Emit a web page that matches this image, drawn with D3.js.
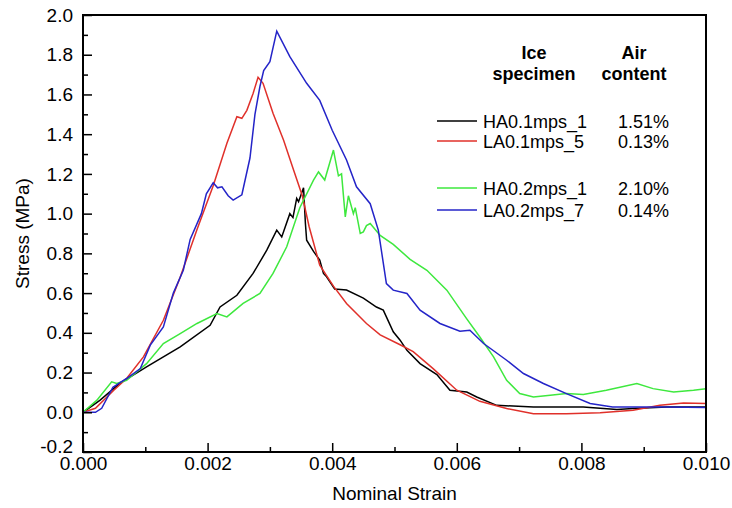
<!DOCTYPE html>
<html>
<head>
<meta charset="utf-8">
<script src="https://cdnjs.cloudflare.com/ajax/libs/d3/7.8.5/d3.min.js"></script>
<style>
  body { margin: 0; background: #fff; }
  text { font-family: "Liberation Sans", Arial, sans-serif; }
</style>
</head>
<body>
<div class="container"></div>
<script>
// stress-strain curves: [strain, stress MPa]
var ha01 = [[0,0],[0.00027,0.06],[0.00059,0.145],[0.00102,0.228],[0.00156,0.329],[0.00204,0.438],[0.0022,0.53],
  [0.00247,0.589],[0.00273,0.699],[0.00295,0.816],[0.00311,0.917],[0.00319,0.883],[0.00332,1.0],[0.00337,0.98],
  [0.00343,1.077],[0.00346,1.06],[0.00354,1.13],[0.00357,0.95],[0.00359,0.866],[0.0037,0.81],[0.0038,0.766],
  [0.00386,0.699],[0.00391,0.682],[0.00404,0.62],[0.00423,0.615],[0.0045,0.575],[0.00471,0.53],[0.00482,0.514],
  [0.00498,0.405],[0.00509,0.363],[0.0052,0.312],[0.00541,0.245],[0.00568,0.19],[0.00589,0.111],[0.00616,0.102],
  [0.00632,0.077],[0.00664,0.035],[0.00723,0.027],[0.00803,0.027],[0.00857,0.014],[0.00883,0.019],[0.00937,0.027],[0.01,0.027]];

var la01 = [[0,0],[0.0002,0.02],[0.00049,0.11],[0.0007,0.17],[0.00097,0.279],[0.00129,0.463],[0.00156,0.68],
  [0.00183,0.92],[0.00209,1.14],[0.00231,1.354],[0.00247,1.488],[0.00255,1.48],[0.00263,1.52],[0.00273,1.605],
  [0.00281,1.686],[0.00289,1.656],[0.00305,1.505],[0.00322,1.37],[0.00338,1.22],[0.00352,1.09],[0.00363,0.934],
  [0.0038,0.74],[0.00402,0.635],[0.00423,0.548],[0.00439,0.497],[0.00455,0.447],[0.00477,0.39],[0.00509,0.34],
  [0.0053,0.305],[0.00562,0.22],[0.006,0.111],[0.00637,0.055],[0.0068,0.019],[0.00723,-0.007],[0.00776,-0.007],
  [0.0083,-0.002],[0.00883,0.01],[0.00926,0.035],[0.00964,0.047],[0.01,0.044]];

var ha02 = [[0,0],[0.00022,0.06],[0.00046,0.153],[0.00054,0.145],[0.0007,0.161],[0.00102,0.245],[0.00129,0.346],
  [0.00156,0.396],[0.00183,0.447],[0.00215,0.497],[0.00231,0.48],[0.00257,0.548],[0.00284,0.598],[0.00305,0.699],
  [0.00327,0.833],[0.00348,1.03],[0.0037,1.169],[0.00378,1.21],[0.00388,1.169],[0.00402,1.32],[0.0041,1.19],
  [0.00415,1.2],[0.00421,0.984],[0.00426,1.09],[0.00434,1.0],[0.00437,1.03],[0.00445,0.9],[0.0045,0.908],
  [0.00455,0.94],[0.00461,0.95],[0.00477,0.89],[0.00498,0.845],[0.00525,0.77],[0.00552,0.715],[0.00584,0.615],
  [0.00616,0.47],[0.00637,0.379],[0.00659,0.279],[0.0068,0.161],[0.00701,0.094],[0.00723,0.077],[0.0075,0.086],
  [0.00776,0.094],[0.00803,0.09],[0.0084,0.111],[0.00889,0.145],[0.00915,0.119],[0.00948,0.102],[0.0098,0.111],[0.01,0.119]];

var la02 = [[0,0],[0.0002,0.0],[0.0003,0.02],[0.00048,0.126],[0.0006,0.15],[0.0007,0.17],[0.00092,0.22],
  [0.00108,0.338],[0.00129,0.43],[0.00145,0.6],[0.00161,0.715],[0.00172,0.87],[0.0019,1.0],[0.00198,1.1],
  [0.00209,1.155],[0.00216,1.13],[0.00223,1.135],[0.00233,1.09],[0.00241,1.068],[0.00255,1.095],[0.00268,1.28],
  [0.00276,1.5],[0.00284,1.64],[0.0029,1.72],[0.003,1.765],[0.00311,1.919],[0.00332,1.79],[0.00359,1.656],
  [0.0038,1.57],[0.004,1.42],[0.00423,1.27],[0.00439,1.135],[0.00461,1.05],[0.00474,0.917],[0.00487,0.648],
  [0.00498,0.615],[0.0052,0.598],[0.00541,0.514],[0.00573,0.447],[0.00605,0.408],[0.00621,0.413],[0.00643,0.346],
  [0.0068,0.262],[0.00707,0.195],[0.00739,0.145],[0.00776,0.094],[0.00814,0.044],[0.0085,0.027],[0.00883,0.027],
  [0.00937,0.027],[0.01,0.024]];

var seriesNames = ['HA0.1mps_1', 'LA0.1mps_5', 'HA0.2mps_1', 'LA0.2mps_7'];
var airContent = ['1.51%', '0.13%', '2.10%', '0.14%'];
var colors = ['#000000', '#e0302a', '#3ee83e', '#2424c8'];
var allSeries = [ha01, la01, ha02, la02];

var xTicks = [0, 0.002, 0.004, 0.006, 0.008, 0.010];
var xMinor = [0.001, 0.003, 0.005, 0.007, 0.009];
var yTicks = [-0.2, 0, 0.2, 0.4, 0.6, 0.8, 1.0, 1.2, 1.4, 1.6, 1.8, 2.0];
var yMinor = [-0.1, 0.1, 0.3, 0.5, 0.7, 0.9, 1.1, 1.3, 1.5, 1.7, 1.9];

var W = 732, H = 508;
var m = { top: 15, right: 26, bottom: 56, left: 83 };

var svg = d3.select('.container').append('svg')
  .attr('width', W).attr('height', H);

var x = d3.scaleLinear().domain([0, 0.01]).range([m.left, W - m.right]);
var y = d3.scaleLinear().domain([-0.2, 2.0]).range([H - m.bottom, m.top]);

svg.append('clipPath').attr('id', 'plot')
  .append('rect')
  .attr('x', m.left).attr('y', m.top)
  .attr('width', W - m.left - m.right).attr('height', H - m.top - m.bottom);

var line = d3.line()
  .x(function(d){ return x(d[0]); })
  .y(function(d){ return y(d[1]); });

svg.append('g').attr('clip-path', 'url(#plot)')
  .selectAll('path')
  .data(allSeries)
  .enter()
  .append('path')
  .attr('d', line)
  .attr('fill', 'none')
  .attr('stroke', function(d, i){ return colors[i]; })
  .attr('stroke-width', 1.5);

// axes, ticks pointing inward
var xAxis = svg.append('g')
  .attr('transform', 'translate(0,' + (H - m.bottom) + ')')
  .call(d3.axisBottom(x).tickValues(xTicks).tickSize(-9).tickPadding(5)
    .tickFormat(function(d){ return d.toFixed(3); }));
svg.append('g')
  .attr('transform', 'translate(0,' + (H - m.bottom) + ')')
  .call(d3.axisBottom(x).tickValues(xMinor).tickSize(-5).tickFormat(''));

var yAxis = svg.append('g')
  .attr('transform', 'translate(' + m.left + ',0)')
  .call(d3.axisLeft(y).tickValues(yTicks).tickSize(-9).tickPadding(10)
    .tickFormat(function(d){ return d.toFixed(1); }));
svg.append('g')
  .attr('transform', 'translate(' + m.left + ',0)')
  .call(d3.axisLeft(y).tickValues(yMinor).tickSize(-5).tickFormat(''));

svg.selectAll('.domain').remove();
svg.selectAll('.tick line').attr('stroke', '#000').attr('stroke-width', 1.5);
svg.selectAll('.tick text').attr('font-size', 19).attr('fill', '#000')
  .style('font-family', '"Liberation Sans", Arial, sans-serif');

// -0.2 label sits a little above the corner
yAxis.selectAll('.tick text').filter(function(d){ return d < -0.1; }).attr('dy', '0.05em');

// frame
svg.append('rect')
  .attr('x', m.left).attr('y', m.top)
  .attr('width', W - m.left - m.right).attr('height', H - m.top - m.bottom)
  .attr('fill', 'none').attr('stroke', '#000').attr('stroke-width', 2);

svg.append('text')
  .attr('x', (m.left + W - m.right) / 2).attr('y', 500)
  .attr('text-anchor', 'middle').attr('font-size', 19)
  .text('Nominal Strain');

svg.append('text')
  .attr('transform', 'translate(29,' + ((m.top + H - m.bottom) / 2) + ') rotate(-90)')
  .attr('text-anchor', 'middle').attr('font-size', 19)
  .text('Stress (MPa)');

// legend
var legend = svg.append('g');
legend.append('text').attr('x', 534).attr('y', 59).attr('text-anchor', 'middle')
  .attr('font-size', 18).attr('font-weight', 'bold').text('Ice');
legend.append('text').attr('x', 534).attr('y', 80).attr('text-anchor', 'middle')
  .attr('font-size', 18).attr('font-weight', 'bold').text('specimen');
legend.append('text').attr('x', 634).attr('y', 59).attr('text-anchor', 'middle')
  .attr('font-size', 18).attr('font-weight', 'bold').text('Air');
legend.append('text').attr('x', 634).attr('y', 80).attr('text-anchor', 'middle')
  .attr('font-size', 18).attr('font-weight', 'bold').text('content');

var rowY = [121, 141, 188, 210];
var rows = legend.selectAll('g.row')
  .data(seriesNames)
  .enter()
  .append('g').attr('class', 'row');
rows.append('line')
  .attr('x1', 437).attr('x2', 477)
  .attr('y1', function(d, i){ return rowY[i]; })
  .attr('y2', function(d, i){ return rowY[i]; })
  .attr('stroke', function(d, i){ return colors[i]; })
  .attr('stroke-width', 1.5);
rows.append('text')
  .attr('x', 483).attr('y', function(d, i){ return rowY[i] + 6.5; })
  .attr('font-size', 18)
  .text(function(d){ return d; });
rows.append('text')
  .attr('x', 669).attr('y', function(d, i){ return rowY[i] + 6.5; })
  .attr('text-anchor', 'end')
  .attr('font-size', 18)
  .text(function(d, i){ return airContent[i]; });
</script>
</body>
</html>
